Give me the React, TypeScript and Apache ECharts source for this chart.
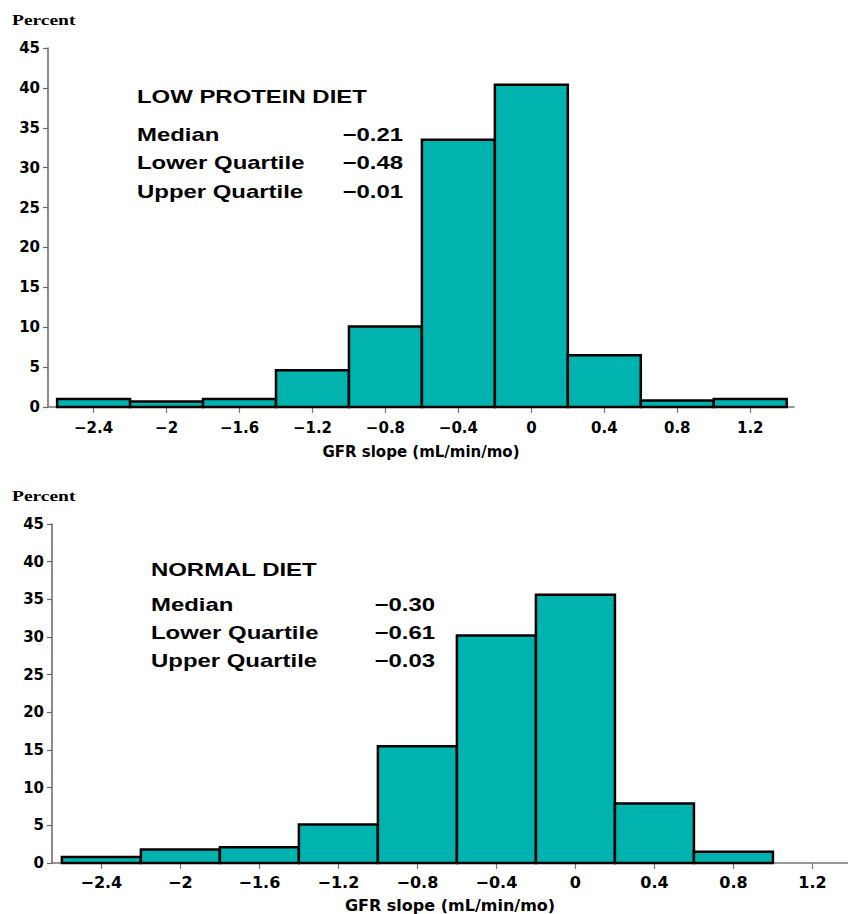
import React, { useEffect, useRef } from "react";
import * as echarts from "echarts";

// ---- data ----
const binCenters = [-2.4, -2.0, -1.6, -1.2, -0.8, -0.4, 0, 0.4, 0.8, 1.2];
const binWidth = 0.4;
const lowProteinPct = [1.0, 0.7, 1.0, 4.6, 10.1, 33.5, 40.4, 6.5, 0.8, 1.0];
const normalPct = [0.8, 1.8, 2.1, 5.1, 15.5, 30.2, 35.6, 7.9, 1.5, 0];
const xTickValues = [-2.4, -2, -1.6, -1.2, -0.8, -0.4, 0, 0.4, 0.8, 1.2];
const lowTitle = "LOW PROTEIN DIET";
const lowStatLabels = ["Median", "Lower Quartile", "Upper Quartile"];
const lowStatValues = ["−0.21", "−0.48", "−0.01"];
const normalTitle = "NORMAL DIET";
const normalStatLabels = ["Median", "Lower Quartile", "Upper Quartile"];
const normalStatValues = ["−0.30", "−0.61", "−0.03"];
const yAxisName = "Percent";
const xAxisName = "GFR slope (mL/min/mo)";

const FILL = "#00B3AF";
const AXIS_FONT = "DejaVu Sans";
const ANNO_FONT = "Liberation Sans";

function fmt(v: number) {
  const r = Math.round(v * 10) / 10;
  return r < 0 ? "−" + String(Math.abs(r)) : String(r);
}

function renderBar(params: any, api: any) {
  const c = api.value(0);
  const v = api.value(1);
  if (!v) return { type: "group", children: [] };
  const p0 = api.coord([c - binWidth / 2, v]);
  const p1 = api.coord([c + binWidth / 2, 0]);
  return {
    type: "rect",
    shape: { x: p0[0], y: p0[1], width: p1[0] - p0[0], height: p1[1] - p0[1] },
    style: { fill: FILL, stroke: "#000", lineWidth: 2.5 },
  };
}

function annoText(text: string, x: number, y: number, align: string, size = 18, font = ANNO_FONT) {
  return {
    type: "text",
    x,
    y,
    scaleX: 1.33,
    style: {
      text,
      fill: "#000",
      font: `bold ${size}px "${font}"`,
      textAlign: align,
      textVerticalAlign: "middle",
    },
  };
}

function statBlock(title: string, labels: string[], values: string[], x: number, valueRight: number, titleY: number, rowYs: number[]) {
  const els: any[] = [annoText(title, x, titleY, "left")];
  labels.forEach((l, i) => {
    els.push(annoText(l, x, rowYs[i], "left"));
    els.push(annoText(values[i], valueRight, rowYs[i], "right"));
  });
  return els;
}

function xAxisCfg(gridIndex: number, min: number, max: number, labelMargin: number, nameGap: number, nameSize: number, labelSize: number) {
  return {
    type: "value",
    gridIndex,
    min,
    max,
    splitLine: { show: false },
    axisLine: { show: true, onZero: false, lineStyle: { color: "#777", width: 1.5 } },
    axisTick: { show: true, customValues: xTickValues, length: 6, lineStyle: { color: "#777", width: 1.2 } },
    axisLabel: {
      customValues: xTickValues,
      formatter: (v: number) => fmt(v),
      color: "#000",
      fontFamily: AXIS_FONT,
      fontWeight: "bold",
      fontSize: labelSize,
      margin: labelMargin,
    },
    name: xAxisName,
    nameLocation: "middle",
    nameGap,
    nameTextStyle: { color: "#000", fontFamily: AXIS_FONT, fontWeight: "bold", fontSize: nameSize },
  };
}

function yAxisCfg(gridIndex: number) {
  return {
    type: "value",
    gridIndex,
    min: 0,
    max: 45,
    interval: 5,
    splitLine: { show: false },
    axisLine: { show: true, onZero: false, lineStyle: { color: "#666", width: 1.5 } },
    axisTick: { show: true, length: 5, lineStyle: { color: "#666", width: 1.2 } },
    axisLabel: {
      color: "#000",
      fontFamily: AXIS_FONT,
      fontWeight: "bold",
      fontSize: 15,
      margin: 8,
    },
  };
}

export default function App() {
  const ref = useRef<HTMLDivElement>(null);
  useEffect(() => {
    if (!ref.current) return;
    const chart = echarts.init(ref.current, undefined, { renderer: "svg" });
    chart.setOption({
      animation: false,
      backgroundColor: "#fff",
      grid: [
        { left: 48, top: 48, width: 746, height: 359 },
        { left: 52, top: 524, width: 796, height: 340 },
      ],
      xAxis: [xAxisCfg(0, -2.65, 1.44, 13, 37, 15, 15), xAxisCfg(1, -2.65, 1.38, 11, 34, 16, 16)],
      yAxis: [yAxisCfg(0), yAxisCfg(1)],
      series: [
        {
          type: "custom",
          xAxisIndex: 0,
          yAxisIndex: 0,
          renderItem: renderBar,
          data: binCenters.map((c, i) => [c, lowProteinPct[i]]),
        },
        {
          type: "custom",
          xAxisIndex: 1,
          yAxisIndex: 1,
          renderItem: renderBar,
          data: binCenters.map((c, i) => [c, normalPct[i]]),
        },
      ],
      graphic: [
        {
          type: "text",
          x: 12,
          y: 20,
          scaleX: 1.3,
          style: { text: yAxisName, fill: "#000", font: 'bold 15px "Liberation Serif"', textVerticalAlign: "middle" },
        },
        {
          type: "text",
          x: 12,
          y: 496,
          scaleX: 1.3,
          style: { text: yAxisName, fill: "#000", font: 'bold 15px "Liberation Serif"', textVerticalAlign: "middle" },
        },
        ...statBlock(lowTitle, lowStatLabels, lowStatValues, 137, 403, 97, [135, 163, 192]),
        ...statBlock(normalTitle, normalStatLabels, normalStatValues, 151, 435, 570, [605, 633, 661]),
      ],
    });
    return () => chart.dispose();
  }, []);
  return <div ref={ref} style={{ position: "absolute", left: 0, top: 0, width: 848, height: 914 }} />;
}
